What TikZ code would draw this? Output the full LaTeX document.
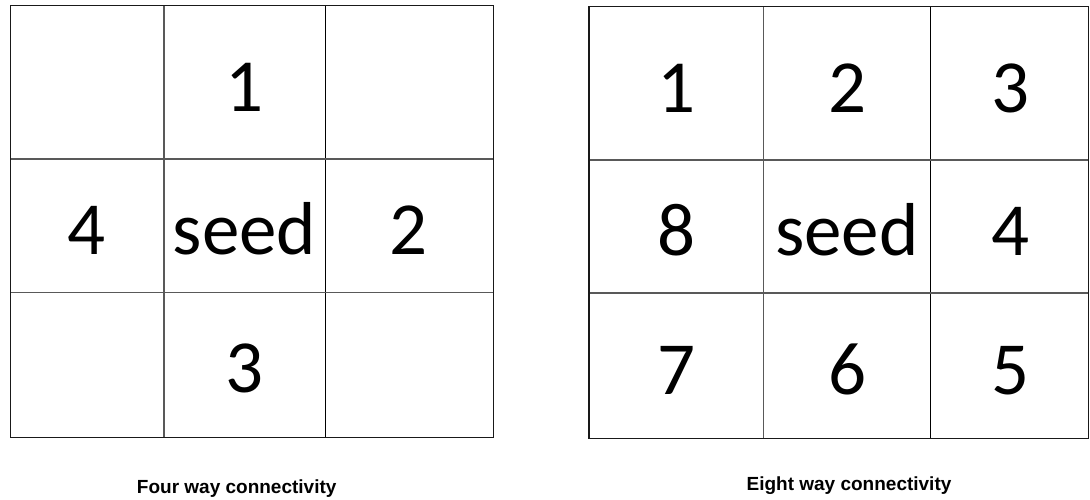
\documentclass[tikz,border=0pt]{standalone}
\usepackage{fontspec}
\setmainfont{Carlito}
\newfontfamily\capfont{Liberation Sans}
\begin{document}
\begin{tikzpicture}[x=1pt,y=-1pt,
  outer/.style={draw=black!90,line width=1.4pt},
  inner/.style={draw=black!65,line width=1.6pt},
  innerdark/.style={draw=black,line width=1.1pt},
  num/.style={anchor=base,inner sep=0pt,font=\fontsize{75}{80}\selectfont},
  caption/.style={anchor=base,inner sep=0pt,font=\capfont\bfseries\fontsize{19}{22}\selectfont}]
\useasboundingbox[fill=white] (0,0) rectangle (1090,499);
% left grid
\draw[inner] (163.7,5.7) -- (163.7,437.3);
\draw[innerdark] (325.3,5.7) -- (325.3,437.3);
\draw[inner] (10.3,159) -- (493.3,159);
\draw[inner] (10.3,292.3) -- (493.3,292.3);
\draw[outer] (10.3,5.7) rectangle (493.3,437.3);
\node[num] (l1) at (244.5,111) {1};
\node[num] (l4) at (87,254) {4};
\node[num] (lseed) at (244.5,254) {seed};
\node[num] (l2) at (409,254) {2};
\node[num] (l3) at (244.5,392.5) {3};
\node[caption] (lcap) at (236.7,493.3) {Four way connectivity};
% right grid
\draw[inner] (763.3,6.3) -- (763.3,438.3);
\draw[innerdark] (930.7,6.3) -- (930.7,438.3);
\draw[inner] (588.8,160) -- (1088.5,160);
\draw[inner] (588.8,292.7) -- (1088.5,292.7);
\draw[outer] (588.8,6.3) rectangle (1088.5,438.3);
\node[num] (r1) at (676,112) {1};
\node[num] (r2) at (847,112) {2};
\node[num] (r3) at (1010,112) {3};
\node[num] (r8) at (676,255) {8};
\node[num] (rseed) at (847,255) {seed};
\node[num] (r4) at (1010,255) {4};
\node[num] (r7) at (676,394) {7};
\node[num] (r6) at (847,394) {6};
\node[num] (r5) at (1010,394) {5};
\node[caption] (rcap) at (849,490) {Eight way connectivity};
\end{tikzpicture}
\end{document}
